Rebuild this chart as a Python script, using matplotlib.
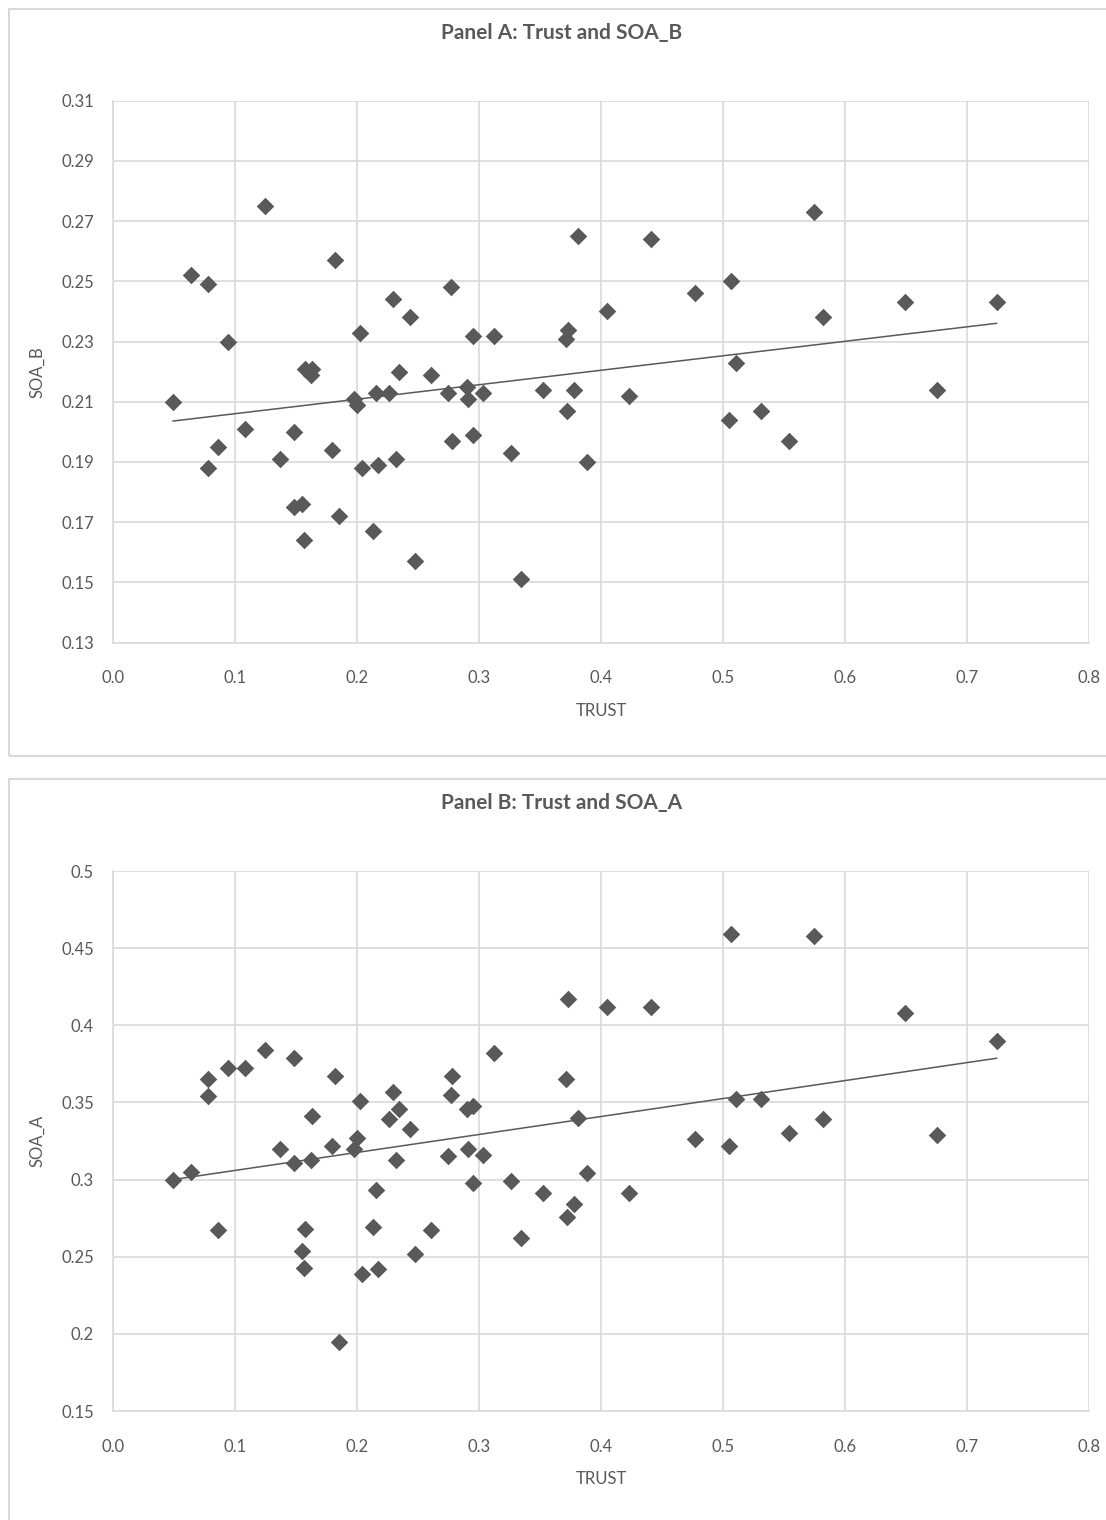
import matplotlib
matplotlib.use("Agg")
import matplotlib.pyplot as plt
from matplotlib.patches import Rectangle
from matplotlib.ticker import MultipleLocator, FixedLocator, FormatStrFormatter
import numpy as np

# country-level trust and the two SOA measures
trust = [0.049, 0.064, 0.078, 0.078, 0.086, 0.094, 0.108, 0.124, 0.137, 0.148,
         0.148, 0.155, 0.156, 0.157, 0.162, 0.163, 0.179, 0.182, 0.185, 0.197,
         0.200, 0.202, 0.204, 0.213, 0.215, 0.217, 0.226, 0.229, 0.232, 0.234,
         0.243, 0.247, 0.260, 0.274, 0.277, 0.278, 0.290, 0.291, 0.295, 0.295,
         0.303, 0.312, 0.326, 0.334, 0.352, 0.371, 0.372, 0.373, 0.378, 0.381,
         0.388, 0.405, 0.423, 0.441, 0.477, 0.505, 0.506, 0.510, 0.531, 0.554,
         0.574, 0.582, 0.649, 0.675, 0.724]

soa_b = [0.210, 0.252, 0.249, 0.188, 0.195, 0.230, 0.201, 0.275, 0.191, 0.200,
         0.175, 0.176, 0.164, 0.221, 0.219, 0.221, 0.194, 0.257, 0.172, 0.211,
         0.209, 0.233, 0.188, 0.167, 0.213, 0.189, 0.213, 0.244, 0.191, 0.220,
         0.238, 0.157, 0.219, 0.213, 0.248, 0.197, 0.215, 0.211, 0.232, 0.199,
         0.213, 0.232, 0.193, 0.151, 0.214, 0.231, 0.207, 0.234, 0.214, 0.265,
         0.190, 0.240, 0.212, 0.264, 0.246, 0.204, 0.250, 0.223, 0.207, 0.197,
         0.273, 0.238, 0.243, 0.214, 0.243]

soa_a = [0.300, 0.305, 0.354, 0.365, 0.267, 0.372, 0.372, 0.384, 0.320, 0.379,
         0.311, 0.254, 0.243, 0.268, 0.313, 0.341, 0.322, 0.367, 0.195, 0.320,
         0.327, 0.351, 0.239, 0.269, 0.293, 0.242, 0.339, 0.357, 0.313, 0.346,
         0.333, 0.252, 0.267, 0.315, 0.355, 0.367, 0.346, 0.320, 0.348, 0.298,
         0.316, 0.382, 0.299, 0.262, 0.291, 0.365, 0.276, 0.417, 0.284, 0.340,
         0.304, 0.412, 0.291, 0.412, 0.326, 0.322, 0.459, 0.352, 0.352, 0.330,
         0.458, 0.339, 0.408, 0.329, 0.390]

yticks_b = [0.13, 0.15, 0.17, 0.19, 0.21, 0.23, 0.25, 0.27, 0.29, 0.31]
yticks_a = [0.15, 0.2, 0.25, 0.3, 0.35, 0.4, 0.45, 0.5]
ylabels_b = ["0.13", "0.15", "0.17", "0.19", "0.21", "0.23", "0.25", "0.27", "0.29", "0.31"]
ylabels_a = ["0.15", "0.2", "0.25", "0.3", "0.35", "0.4", "0.45", "0.5"]

panels = [
    ("Panel A: Trust and SOA_B", "SOA_B", soa_b, yticks_b, ylabels_b),
    ("Panel B: Trust and SOA_A", "SOA_A", soa_a, yticks_a, ylabels_a),
]

W, H = 1106, 1520
grey = "#595959"
light = "#d9d9d9"
plt.rcParams["font.family"] = ["Lato", "DejaVu Sans"]

fig = plt.figure(figsize=(W / 100, H / 100), dpi=100)

# pixel layout: (box top, box bottom, axes top, axes bottom)
layout = [(9, 756, 100.8, 642.5), (779, 1530, 871, 1411)]
ax_left, ax_right = 113.3, 1089.3

for (title, ylab, yvals, yt, yl), (bt, bb, at, ab) in zip(panels, layout):
    fig.patches.append(Rectangle((9 / W, 1 - bb / H), 1.2, (bb - bt) / H,
                                 transform=fig.transFigure, fill=False,
                                 edgecolor=light, linewidth=1.5))
    fig.text(562 / W, 1 - (bt + 30) / H, title, ha="center", va="baseline",
             fontsize=15, fontweight="bold", color=grey)

    ax = fig.add_axes([ax_left / W, 1 - ab / H, (ax_right - ax_left) / W, (ab - at) / H])
    ax.scatter(trust, yvals, marker="D", s=80, color=grey, linewidths=0, zorder=3)

    # linear trendline over the data range
    k, c = np.polyfit(trust, yvals, 1)
    xs = np.array([min(trust), max(trust)])
    ax.plot(xs, k * xs + c, color=grey, linewidth=1.1, zorder=2)

    ax.set_xlim(0, 0.8)
    ax.set_ylim(yt[0], yt[-1])
    ax.xaxis.set_major_locator(MultipleLocator(0.1))
    ax.xaxis.set_major_formatter(FormatStrFormatter("%.1f"))
    ax.yaxis.set_major_locator(FixedLocator(yt))
    ax.set_yticklabels(yl)

    ax.grid(True, color=light, linewidth=1.2, zorder=0)
    ax.set_axisbelow(True)
    for side in ["top", "right"]:
        ax.spines[side].set_visible(False)
    for side in ["left", "bottom"]:
        ax.spines[side].set_color(light)
        ax.spines[side].set_linewidth(1.2)
    ax.tick_params(axis="both", length=0, labelsize=12, labelcolor=grey)
    ax.tick_params(axis="x", pad=20)
    ax.tick_params(axis="y", pad=14)

    ax.set_xlabel("TRUST", fontsize=12, color=grey)
    ax.set_ylabel(ylab, fontsize=12, color=grey, va="center")
    ax.xaxis.set_label_coords(0.5, -60 / (ab - at))
    ax.yaxis.set_label_coords(-(ax_left - 37) / (ax_right - ax_left), 0.5)

fig.savefig("out.png", dpi=100)
